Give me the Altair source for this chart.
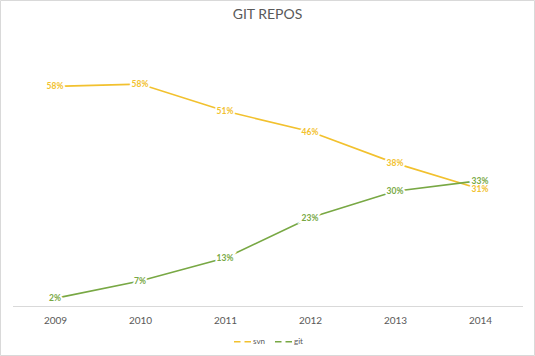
import altair as alt
import pandas as pd

years = ["2009", "2010", "2011", "2012", "2013", "2014"]
svn = [57.8, 58.4, 51.3, 45.9, 37.6, 30.8]
git = [2.0, 6.6, 12.6, 23.2, 30.2, 33.0]
series = ["svn", "git"]
colors = ["#F2C12E", "#78A844"]

rows = []
for y, v in zip(years, svn):
    rows.append({"year": y, "series": "svn", "value": v, "label": f"{round(v)}%"})
for y, v in zip(years, git):
    rows.append({"year": y, "series": "git", "value": v, "label": f"{round(v)}%"})
df = pd.DataFrame(rows)

FONT = "Lato"
GRAY = "#595959"

x = alt.X("year:O", scale=alt.Scale(type="point", padding=0.5),
          axis=alt.Axis(title=None, labelAngle=0, ticks=False, grid=False,
                        domainColor="#D9D9D9", domainWidth=1,
                        labelColor=GRAY, labelFontSize=10, labelFont=FONT,
                        labelPadding=9))
y = alt.Y("value:Q", scale=alt.Scale(domain=[0, 70]), axis=None)
color = alt.Color("series:N", scale=alt.Scale(domain=series, range=colors),
                  legend=alt.Legend(title=None, orient="none", direction="horizontal",
                                    legendX=220.5, legendY=292, symbolType="stroke",
                                    symbolSize=289, symbolStrokeWidth=1.5,
                                    symbolDash=[6.5, 4],
                                    labelFontSize=8, labelColor=GRAY, labelFont=FONT,
                                    labelOffset=1, columnPadding=7, symbolOffset=0))

base = alt.Chart(df)
lines = base.mark_line(strokeWidth=1.6).encode(x=x, y=y, color=color)
halo = base.mark_text(font=FONT, fontSize=8.5, fontWeight="bold", stroke="white",
                      strokeWidth=4, fill="white").encode(x=x, y=y, text="label:N")
labels = base.mark_text(font=FONT, fontSize=8.5, fontWeight="bold").encode(
    x=x, y=y, text="label:N",
    color=alt.Color("series:N", scale=alt.Scale(domain=series, range=colors), legend=None))

border = alt.Chart(pd.DataFrame({"a": [0]})).mark_rect(
    fill=None, stroke="#D9D9D9", strokeWidth=1).encode(
    x=alt.value(-12), x2=alt.value(522), y=alt.value(-39.5), y2=alt.value(315.5))

chart = alt.layer(border, lines, halo, labels).properties(
    width=510, height=266,
    padding={"left": 12.5, "right": 12.5, "top": 40, "bottom": 50},
    autosize=alt.AutoSizeParams(type="none"),
    title=alt.Title("GIT REPOS", fontSize=14, font=FONT, fontWeight="normal",
                    color=GRAY, anchor="middle", offset=-21.5),
).configure(background="white").configure_view(stroke=None)

chart.save("out.html", embed_options={"renderer": "svg", "actions": False})
